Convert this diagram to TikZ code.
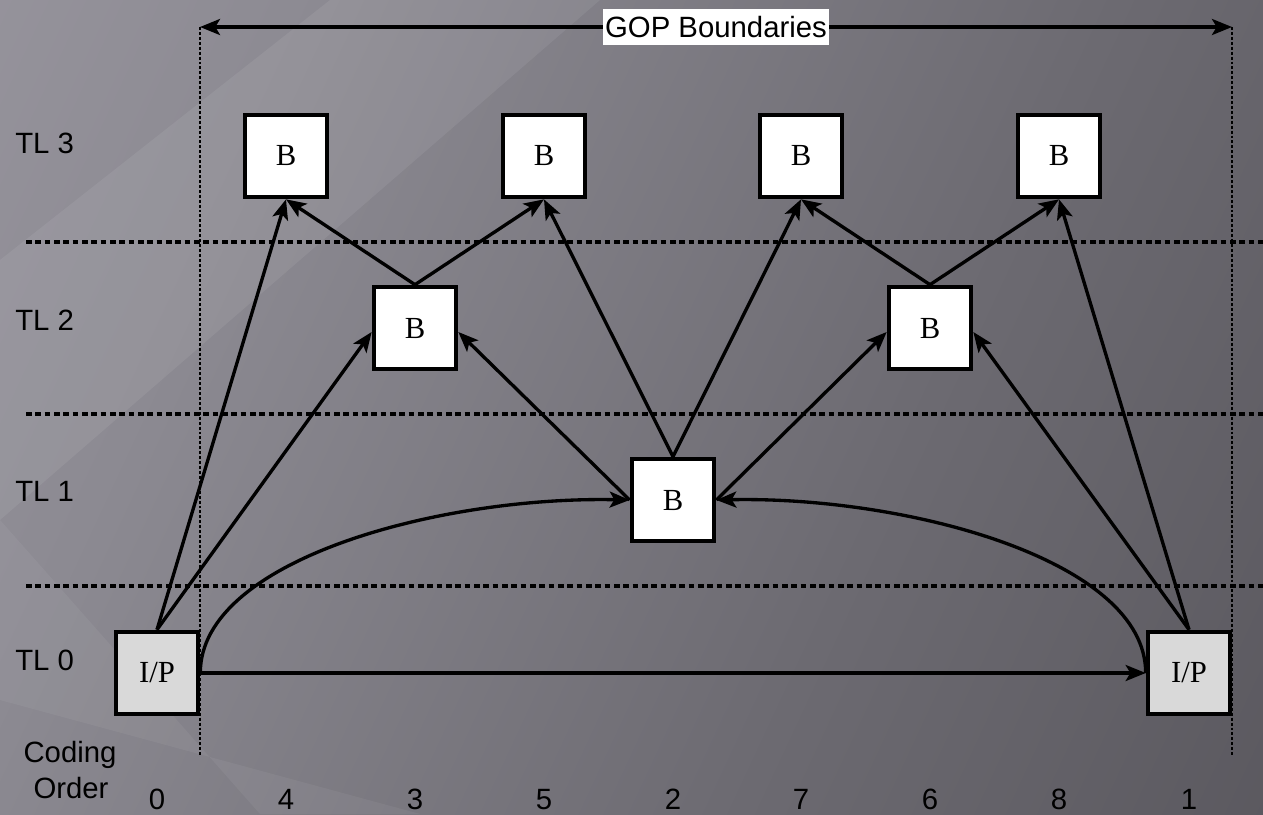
\documentclass[tikz,border=0pt]{standalone}
\usepackage{fontspec}
\setmainfont{Liberation Sans}
\newfontfamily\serf{Liberation Serif}
\usetikzlibrary{arrows.meta,calc}
\definecolor{bgA}{RGB}{160,157,166}
\definecolor{bgB}{RGB}{140,138,146}
\definecolor{bgC}{RGB}{108,106,113}
\definecolor{bgD}{RGB}{78,76,82}
\definecolor{ipgray}{RGB}{217,217,217}
\pgfdeclarehorizontalshading{bgsh}{100bp}{color(0bp)=(bgA); color(30bp)=(bgB); color(62bp)=(bgC); color(100bp)=(bgD)}
\begin{document}
\begin{tikzpicture}[x=0.75pt,y=-0.75pt,
  frame/.style={draw=black, line width=3.3pt, minimum size=61.7pt, inner sep=0pt, font=\serf\fontsize{23}{27}\selectfont},
  bbox/.style={frame, fill=white},
  ipbox/.style={frame, fill=ipgray},
  lbl/.style={font=\fontsize{22}{26}\selectfont, inner sep=0pt, text=black},
  tip/.tip={Stealth[length=15pt,width=12pt,inset=3.5pt]},
  arr/.style={-tip, line width=2.5pt},
  tlsep/.style={dash pattern=on 4.3pt off 2.7pt, line width=2.5pt},
  gopsep/.style={dash pattern=on 2.2pt off 1.5pt, line width=1.5pt}]
\useasboundingbox (0,0) rectangle (1263,814);
% background
\shade[shading=bgsh, shading angle=-25] (0,0) rectangle (1263,814);
\fill[white, opacity=0.07] (330,0) -- (600,0) -- (0,520) -- (0,260) -- cycle;
\fill[white, opacity=0.05] (0,520) -- (0,700) -- (420,814) -- (260,814) -- cycle;

% layer separators
\coordinate (s3l) at (26,242); \coordinate (s3r) at (1263,242);
\coordinate (s2l) at (26,414); \coordinate (s2r) at (1263,414);
\coordinate (s1l) at (26,586); \coordinate (s1r) at (1263,586);
\draw[tlsep] (s3l) -- (s3r);
\draw[tlsep] (s2l) -- (s2r);
\draw[tlsep] (s1l) -- (s1r);

% GOP boundaries
\coordinate (gl) at (200,27); \coordinate (gr) at (1232,27);
\coordinate (glb) at (200,757); \coordinate (grb) at (1232,757);
\draw[gopsep] (gl) -- (glb);
\draw[gopsep] (gr) -- (grb);
\draw[tip-tip, line width=2.5pt] (gl) -- (gr)
  node[pos=0.5, fill=white, inner xsep=1.5pt, inner ysep=0pt, minimum height=27.5pt, font=\fontsize{22}{26}\selectfont] (gop) {GOP Boundaries};

% boxes
\node[bbox] (b31) at (286,156) {B};
\node[bbox] (b32) at (544,156) {B};
\node[bbox] (b33) at (801,156) {B};
\node[bbox] (b34) at (1059,156) {B};
\node[bbox] (b21) at (415,328) {B};
\node[bbox] (b22) at (930,328) {B};
\node[bbox] (b1) at (673,500) {B};
\node[ipbox] (ip0) at (157,673) {I/P};
\node[ipbox] (ip1) at (1189,673) {I/P};

% arrows
\draw[arr] (ip0.north) -- (b31.south);
\draw[arr] (ip0.north) -- ($(b21.west)+(0,4)$);
\draw[arr] (b21.north) -- (b31.south);
\draw[arr] (b21.north) -- (b32.south);
\draw[arr] (b1.north) -- (b32.south);
\draw[arr] (b1.north) -- (b33.south);
\draw[arr] (b1.west) -- ($(b21.east)+(0,4)$);
\draw[arr] (b1.east) -- ($(b22.west)+(0,4)$);
\draw[arr] (b22.north) -- (b33.south);
\draw[arr] (b22.north) -- (b34.south);
\draw[arr] (ip1.north) -- ($(b22.east)+(0,4)$);
\draw[arr] (ip1.north) -- (b34.south);
\draw[arr] (ip0.east) -- (ip1.west);
\draw[arr] (ip0.east) .. controls (200,560) and (440,496) .. (b1.west);
\draw[arr] (ip1.west) .. controls (1146,560) and (906,496) .. (b1.east);

% level labels
\node[lbl, anchor=west] (tl3) at (15,143) {TL 3};
\node[lbl, anchor=west] (tl2) at (15,320) {TL 2};
\node[lbl, anchor=west] (tl1) at (15,491) {TL 1};
\node[lbl, anchor=west] (tl0) at (15,660) {TL 0};
\node[lbl, anchor=base] (cod) at (70,762) {Coding};
\node[lbl, anchor=base] (ord) at (71,798) {Order};
\foreach \x/\d/\n in {157/0/c0,286/4/c1,415/3/c2,544/5/c3,673/2/c4,801/7/c5,930/6/c6,1059/8/c7,1189/1/c8}
  \node[lbl, anchor=base] (\n) at (\x,809) {\d};
\end{tikzpicture}
\end{document}
